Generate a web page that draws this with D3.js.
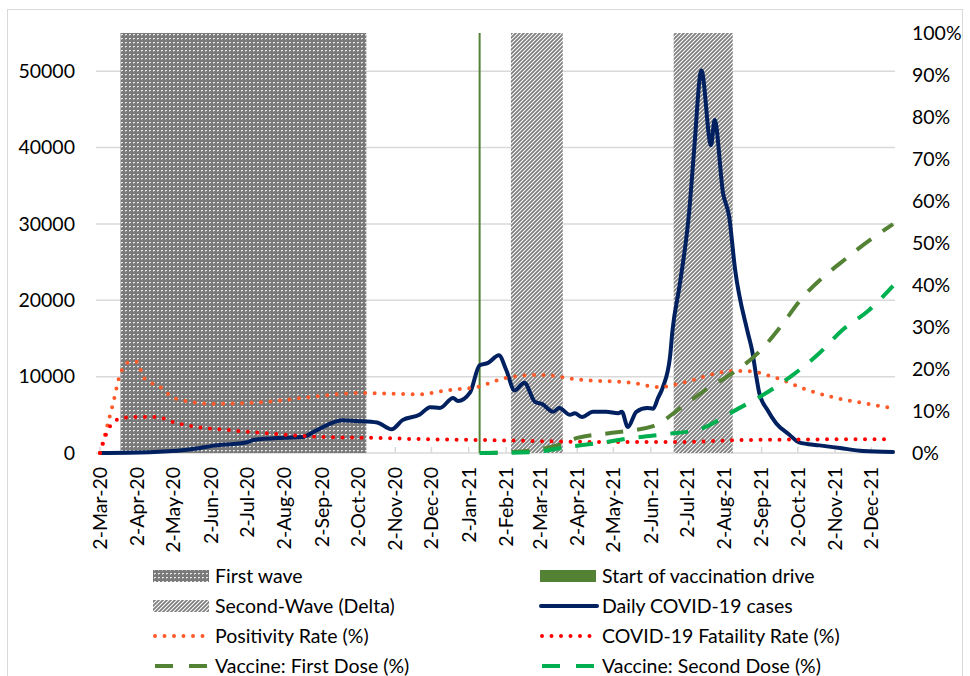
<!DOCTYPE html>
<html>
<head>
<meta charset="utf-8">
<script src="https://cdn.jsdelivr.net/npm/d3@7"></script>
<style>
  body { margin: 0; background: #fff; }
  text { font-family: Lato, "Open Sans", sans-serif; fill: #000; }
</style>
</head>
<body>
<div id="wrapper"></div>
<script>
// Tick labels
const monthTicks = [
  "2-Mar-20", "2-Apr-20", "2-May-20", "2-Jun-20", "2-Jul-20", "2-Aug-20",
  "2-Sep-20", "2-Oct-20", "2-Nov-20", "2-Dec-20", "2-Jan-21", "2-Feb-21",
  "2-Mar-21", "2-Apr-21", "2-May-21", "2-Jun-21", "2-Jul-21", "2-Aug-21",
  "2-Sep-21", "2-Oct-21", "2-Nov-21", "2-Dec-21",
];
const caseTicks = [0, 10000, 20000, 30000, 40000, 50000];
const rateTicks = [0, 0.1, 0.2, 0.3, 0.4, 0.5, 0.6, 0.7, 0.8, 0.9, 1];

// Shaded periods
const firstWave = [["2020-03-19", "2020-10-09"]];
const secondWave = [["2021-02-06", "2021-03-21"], ["2021-06-21", "2021-08-09"]];
const vaccinationStart = "2021-01-11";

// Daily COVID-19 cases
const dailyCases = [
  ["2020-03-02", 0], ["2020-04-12", 100], ["2020-05-24", 650], ["2020-06-02", 900],
  ["2020-07-02", 1400], ["2020-07-07", 1700], ["2020-08-02", 2000], ["2020-08-17", 2100],
  ["2020-08-29", 3000], ["2020-09-19", 4300], ["2020-10-01", 4200], ["2020-10-18", 4000],
  ["2020-10-30", 3100], ["2020-11-08", 4300], ["2020-11-22", 5000], ["2020-12-01", 6000],
  ["2020-12-09", 5900], ["2020-12-20", 7200], ["2020-12-24", 6800], ["2021-01-03", 7900],
  ["2021-01-11", 11500], ["2021-01-18", 11800], ["2021-01-27", 12800], ["2021-02-02", 10900],
  ["2021-02-09", 8200], ["2021-02-17", 9200], ["2021-02-26", 6700], ["2021-03-04", 6400],
  ["2021-03-13", 5400], ["2021-03-18", 5900], ["2021-03-27", 5000], ["2021-03-31", 5200],
  ["2021-04-06", 4700], ["2021-04-15", 5400], ["2021-04-26", 5400], ["2021-05-06", 5200],
  ["2021-05-09", 5400], ["2021-05-14", 3400], ["2021-05-21", 5400], ["2021-05-30", 5900],
  ["2021-06-04", 5800], ["2021-06-08", 7200], ["2021-06-12", 8600], ["2021-06-18", 12600],
  ["2021-06-20", 16000], ["2021-06-26", 22000], ["2021-07-04", 31800], ["2021-07-08", 39700],
  ["2021-07-14", 50100], ["2021-07-22", 40300], ["2021-07-25", 43600], ["2021-08-01", 34000],
  ["2021-08-06", 31000], ["2021-08-11", 24000], ["2021-08-21", 16100], ["2021-08-25", 13500],
  ["2021-08-29", 9600], ["2021-08-31", 7900], ["2021-09-07", 5600], ["2021-09-14", 3900],
  ["2021-09-25", 2400], ["2021-10-03", 1400], ["2021-10-20", 1000], ["2021-11-06", 650],
  ["2021-11-25", 260], ["2021-12-20", 130],
];

// Positivity rate (fraction)
const positivityRate = [
  ["2020-03-02", 0], ["2020-03-13", 0.12], ["2020-03-19", 0.19], ["2020-03-27", 0.217],
  ["2020-04-02", 0.217], ["2020-04-07", 0.18], ["2020-04-21", 0.157], ["2020-05-03", 0.13],
  ["2020-06-04", 0.117], ["2020-07-15", 0.121], ["2020-08-23", 0.133], ["2020-10-04", 0.143],
  ["2020-11-22", 0.14], ["2020-12-17", 0.15], ["2021-01-09", 0.157], ["2021-02-02", 0.179],
  ["2021-03-02", 0.186], ["2021-04-06", 0.174], ["2021-05-18", 0.167], ["2021-06-09", 0.157],
  ["2021-06-28", 0.167], ["2021-07-27", 0.19], ["2021-08-06", 0.195], ["2021-08-20", 0.195],
  ["2021-09-14", 0.179], ["2021-10-08", 0.152], ["2021-10-31", 0.133], ["2021-11-25", 0.119],
  ["2021-12-19", 0.107],
];

// COVID-19 fatality rate (fraction)
const fatalityRate = [
  ["2020-03-02", 0], ["2020-03-10", 0.062], ["2020-03-20", 0.083], ["2020-04-04", 0.086],
  ["2020-04-19", 0.086], ["2020-04-29", 0.076], ["2020-05-21", 0.062], ["2020-06-15", 0.055],
  ["2020-07-15", 0.048], ["2020-09-03", 0.038], ["2020-10-14", 0.036], ["2020-11-22", 0.033],
  ["2021-01-11", 0.031], ["2021-05-05", 0.026], ["2021-06-26", 0.026], ["2021-08-20", 0.031],
  ["2021-12-13", 0.033],
];

// Vaccination coverage (fraction)
const firstDose = [
  ["2021-01-11", 0], ["2021-02-05", 0.002], ["2021-03-04", 0.01], ["2021-03-18", 0.019],
  ["2021-04-02", 0.036], ["2021-05-01", 0.048], ["2021-06-04", 0.064], ["2021-06-28", 0.11],
  ["2021-07-21", 0.157], ["2021-08-04", 0.181], ["2021-09-03", 0.25], ["2021-09-17", 0.298],
  ["2021-10-03", 0.36], ["2021-11-14", 0.47], ["2021-12-20", 0.545],
];
const secondDose = [
  ["2021-01-11", 0], ["2021-02-24", 0.002], ["2021-03-24", 0.014], ["2021-04-21", 0.024],
  ["2021-05-18", 0.036], ["2021-06-15", 0.045], ["2021-07-13", 0.057], ["2021-08-02", 0.086],
  ["2021-08-09", 0.098], ["2021-09-03", 0.138], ["2021-09-28", 0.186], ["2021-10-20", 0.238],
  ["2021-11-08", 0.293], ["2021-11-30", 0.34], ["2021-12-20", 0.398],
];

async function drawChart() {
  // 1. Accessors
  const dateParser = d3.timeParse("%Y-%m-%d");
  const tickParser = d3.timeParse("%d-%b-%y");
  const xAccessor = d => dateParser(d[0]);
  const yAccessor = d => d[1];

  // 2. Dimensions
  let dimensions = {
    width: 970,
    height: 676,
    margin: { top: 33, right: 75, bottom: 223, left: 96 },
  };
  dimensions.boundedWidth = dimensions.width - dimensions.margin.left - dimensions.margin.right;
  dimensions.boundedHeight = dimensions.height - dimensions.margin.top - dimensions.margin.bottom;

  // 3. Canvas
  const wrapper = d3.select("#wrapper")
    .append("svg")
    .attr("width", dimensions.width)
    .attr("height", dimensions.height);

  wrapper.append("rect")
    .attr("x", 7.5).attr("y", 9.5)
    .attr("width", 955).attr("height", 700)
    .attr("fill", "none")
    .attr("stroke", "#d9d9d9");

  // fill patterns for the wave periods
  const defs = wrapper.append("defs");
  const dots = defs.append("pattern")
    .attr("id", "dots")
    .attr("patternUnits", "userSpaceOnUse")
    .attr("width", 4).attr("height", 4);
  dots.append("rect").attr("width", 4).attr("height", 4).attr("fill", "#7a7a7a");
  dots.append("rect").attr("x", 1).attr("y", 1).attr("width", 2).attr("height", 1).attr("fill", "#e8e8e8");
  dots.append("rect").attr("x", 1).attr("y", 2).attr("width", 1).attr("height", 1).attr("fill", "#b0b0b0");

  const hatch = defs.append("pattern")
    .attr("id", "hatch")
    .attr("patternUnits", "userSpaceOnUse")
    .attr("width", 4).attr("height", 4);
  hatch.append("rect").attr("width", 4).attr("height", 4).attr("fill", "#fff");
  hatch.append("path")
    .attr("d", "M-1,1 l2,-2 M0,4 l4,-4 M3,5 l2,-2")
    .attr("stroke", "#7f7f7f")
    .attr("stroke-width", 1.8);

  const bounds = wrapper.append("g")
    .attr("transform", `translate(${dimensions.margin.left},${dimensions.margin.top})`);

  // 4. Scales
  const xScale = d3.scaleTime()
    .domain([dateParser("2020-03-02"), dateParser("2021-12-20")])
    .range([4, 797]);
  const yScale = d3.scaleLinear()
    .domain([0, 55000])
    .range([dimensions.boundedHeight, 0]);
  const rateScale = d3.scaleLinear()
    .domain([0, 1])
    .range([dimensions.boundedHeight, 0]);

  // 5. Gridlines + shaded periods
  bounds.append("g")
    .selectAll("line")
    .data(caseTicks)
    .join("line")
    .attr("x1", 0).attr("x2", dimensions.boundedWidth)
    .attr("y1", d => yScale(d)).attr("y2", d => yScale(d))
    .attr("stroke", "#d9d9d9")
    .attr("stroke-width", 1.5);

  bounds.append("g")
    .selectAll("line")
    .data(monthTicks)
    .join("line")
    .attr("x1", d => xScale(tickParser(d))).attr("x2", d => xScale(tickParser(d)))
    .attr("y1", dimensions.boundedHeight - 6).attr("y2", dimensions.boundedHeight)
    .attr("stroke", "#d9d9d9")
    .attr("stroke-width", 1.5);

  const drawPeriods = (periods, fill) => bounds.append("g")
    .selectAll("rect")
    .data(periods)
    .join("rect")
    .attr("x", d => xScale(dateParser(d[0])))
    .attr("width", d => xScale(dateParser(d[1])) - xScale(dateParser(d[0])))
    .attr("y", 0)
    .attr("height", dimensions.boundedHeight)
    .attr("fill", fill);
  drawPeriods(firstWave, "url(#dots)");
  drawPeriods(secondWave, "url(#hatch)");

  const vx = xScale(dateParser(vaccinationStart));
  bounds.append("line")
    .attr("x1", vx).attr("x2", vx)
    .attr("y1", 0).attr("y2", dimensions.boundedHeight)
    .attr("stroke", "#548235")
    .attr("stroke-width", 2);

  // 6. Lines
  const caseLine = d3.line()
    .x(d => xScale(xAccessor(d)))
    .y(d => yScale(yAccessor(d)))
    .curve(d3.curveMonotoneX);
  const rateLine = d3.line()
    .x(d => xScale(xAccessor(d)))
    .y(d => rateScale(yAccessor(d)))
    .curve(d3.curveMonotoneX);

  const series = [
    { data: dailyCases, gen: caseLine, color: "#002060", dash: null, cap: "round" },
    { data: positivityRate, gen: rateLine, color: "#ff5a28", dash: "0 9.5", cap: "round" },
    { data: fatalityRate, gen: rateLine, color: "#ff0000", dash: "0 9.5", cap: "round" },
    { data: firstDose, gen: rateLine, color: "#548235", dash: "18 14", cap: "butt" },
    { data: secondDose, gen: rateLine, color: "#00b050", dash: "18 14", cap: "butt" },
  ];
  series.forEach(s => {
    bounds.append("path")
      .attr("d", s.gen(s.data))
      .attr("fill", "none")
      .attr("stroke", s.color)
      .attr("stroke-width", 4)
      .attr("stroke-linecap", s.cap)
      .attr("stroke-linejoin", "round")
      .attr("stroke-dasharray", s.dash);
  });

  // 7. Axes (labels only)
  bounds.append("g")
    .selectAll("text")
    .data(caseTicks)
    .join("text")
    .attr("x", -21)
    .attr("y", d => yScale(d))
    .attr("dy", "0.35em")
    .attr("text-anchor", "end")
    .style("font-size", "19.5px")
    .text(d => d);

  bounds.append("g")
    .selectAll("text")
    .data(rateTicks)
    .join("text")
    .attr("x", dimensions.boundedWidth + 17)
    .attr("y", d => rateScale(d))
    .attr("dy", "0.35em")
    .style("font-size", "19.5px")
    .text(d3.format(".0%"));

  bounds.append("g")
    .selectAll("text")
    .data(monthTicks)
    .join("text")
    .attr("transform", d => `translate(${xScale(tickParser(d))},${dimensions.boundedHeight + 14}) rotate(-90)`)
    .attr("dy", "0.35em")
    .attr("text-anchor", "end")
    .style("font-size", "19.5px")
    .text(d => d);

  // 8. Legend
  const legendItems = [
    { label: "First wave", type: "rect", fill: "url(#dots)", col: 0, row: 0 },
    { label: "Start of vaccination drive", type: "rect", fill: "#548235", col: 1, row: 0 },
    { label: "Second-Wave (Delta)", type: "rect", fill: "url(#hatch)", col: 0, row: 1 },
    { label: "Daily COVID-19 cases", type: "line", color: "#002060", dash: null, cap: "round", col: 1, row: 1 },
    { label: "Positivity Rate (%)", type: "line", color: "#ff5a28", dash: "0 9.5", cap: "round", col: 0, row: 2 },
    { label: "COVID-19 Fataility Rate (%)", type: "line", color: "#ff0000", dash: "0 9.5", cap: "round", col: 1, row: 2 },
    { label: "Vaccine: First Dose (%)", type: "line", color: "#548235", dash: "18 16", cap: "butt", col: 0, row: 3 },
    { label: "Vaccine: Second Dose (%)", type: "line", color: "#00b050", dash: "18 16", cap: "butt", col: 1, row: 3 },
  ];
  const legend = wrapper.append("g");
  const item = legend.selectAll("g")
    .data(legendItems)
    .join("g")
    .attr("transform", d => `translate(${d.col ? 540 : 153},${576 + d.row * 30})`);
  item.filter(d => d.type === "rect")
    .append("rect")
    .attr("x", 0).attr("y", -6)
    .attr("width", 56).attr("height", 12)
    .attr("fill", d => d.fill);
  item.filter(d => d.type === "line")
    .append("line")
    .attr("x1", d => d.dash ? 2 : 1).attr("x2", 57)
    .attr("stroke", d => d.color)
    .attr("stroke-width", 4)
    .attr("stroke-linecap", d => d.cap)
    .attr("stroke-dasharray", d => d.dash);
  item.append("text")
    .attr("x", 62)
    .attr("dy", "0.35em")
    .style("font-size", "19.5px")
    .text(d => d.label);
}

drawChart();
</script>
</body>
</html>
